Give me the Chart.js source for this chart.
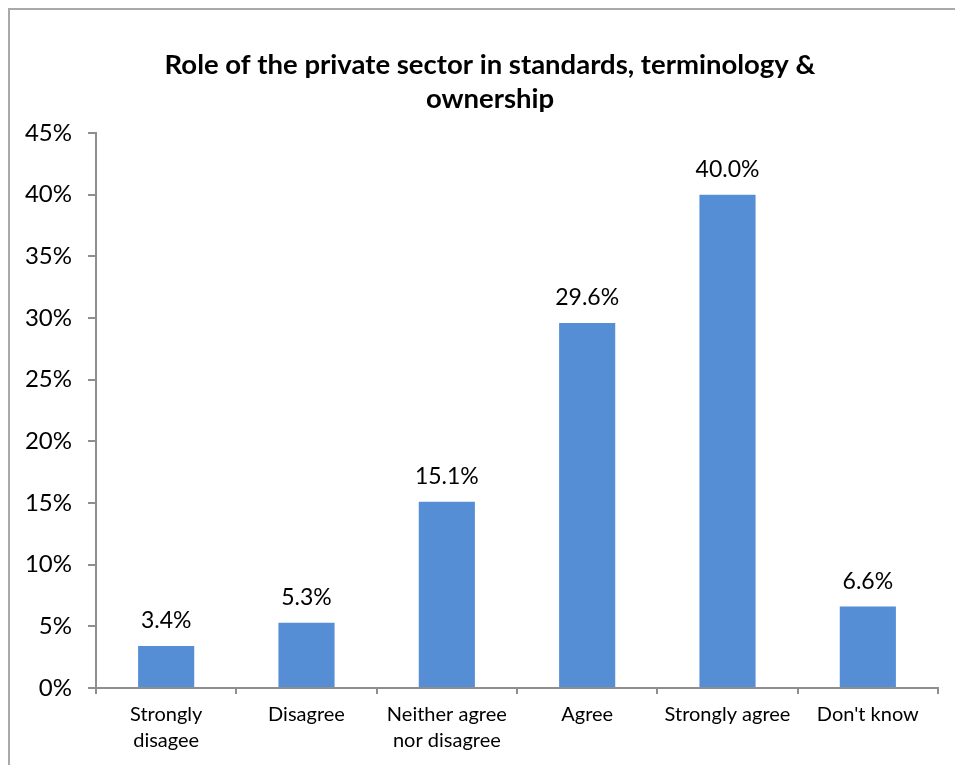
<!DOCTYPE html>
<html>
<head>
<meta charset="utf-8">
<script src="https://cdn.jsdelivr.net/npm/chart.js@4.4.1/dist/chart.umd.min.js"></script>
<style>
  html, body { margin: 0; padding: 0; background: #fff; }
  #wrap { position: relative; width: 955px; height: 765px; }
</style>
</head>
<body>
<div id="wrap"><canvas id="myChart" width="955" height="765"></canvas></div>
<script>
const categories = [
  ["Strongly", "disagee"],
  "Disagree",
  ["Neither agree", "nor disagree"],
  "Agree",
  "Strongly agree",
  "Don't know",
];
const shares = [3.4, 5.3, 15.1, 29.6, 40.0, 6.6];
const yTicks = [0, 5, 10, 15, 20, 25, 30, 35, 40, 45];
const titleLines = ["Role of the private sector in standards, terminology &", "ownership"];

const FONT = "Lato, 'Open Sans', sans-serif";
const AXIS = "#8e8e8e";

// frame, title and the value above each bar
const decorations = {
  id: "decorations",
  beforeDraw(chart) {
    const ctx = chart.ctx;
    ctx.save();
    ctx.fillStyle = "#fff";
    ctx.fillRect(0, 0, chart.width, chart.height);
    ctx.strokeStyle = "#a9a9a9";
    ctx.lineWidth = 2;
    ctx.beginPath();
    ctx.moveTo(9, chart.height);
    ctx.lineTo(9, 9);
    ctx.lineTo(chart.width, 9);
    ctx.stroke();
    ctx.restore();
  },
  afterDraw(chart) {
    const ctx = chart.ctx;
    ctx.save();
    ctx.fillStyle = "#000";
    ctx.textAlign = "center";
    ctx.textBaseline = "middle";
    ctx.font = "bold 27.5px " + FONT;
    titleLines.forEach((line, i) => ctx.fillText(line, 490, 65 + i * 34));

    ctx.font = "23px " + FONT;
    ctx.textBaseline = "bottom";
    const meta = chart.getDatasetMeta(0);
    meta.data.forEach((bar, i) => {
      ctx.fillText(shares[i].toFixed(1) + "%", bar.x, bar.y - 14);
    });
    ctx.restore();
  },
};

const config = {
  type: "bar",
  data: {
    labels: categories,
    datasets: [
      {
        data: shares,
        backgroundColor: "#558ed5",
        categoryPercentage: 0.8,
        barPercentage: 0.5,
      },
    ],
  },
  plugins: [decorations],
  options: {
    responsive: false,
    animation: false,
    layout: { padding: { left: 0, right: 17, top: 133, bottom: 0 } },
    plugins: {
      legend: { display: false },
      tooltip: { enabled: false },
      title: { display: false },
    },
    scales: {
      x: {
        offset: true,
        grid: {
          offset: true,
          drawOnChartArea: false,
          drawTicks: true,
          tickLength: 6,
          color: AXIS,
          lineWidth: 2,
        },
        border: { color: AXIS, width: 2 },
        ticks: {
          color: "#000",
          font: { family: FONT, size: 20, lineHeight: 1.3 },
          padding: 8,
          maxRotation: 0,
          autoSkip: false,
        },
        afterFit(scale) {
          scale.height = 77;
        },
      },
      y: {
        min: 0,
        max: 45,
        grid: {
          drawOnChartArea: false,
          tickLength: 8,
          color: AXIS,
          lineWidth: 2,
        },
        border: { color: AXIS, width: 2 },
        afterBuildTicks(scale) {
          scale.ticks = yTicks.map((v) => ({ value: v }));
        },
        ticks: {
          color: "#000",
          font: { family: FONT, size: 24 },
          padding: 16,
          callback: (v) => v + "%",
        },
        afterFit(scale) {
          scale.width = 96;
        },
      },
    },
  },
};

new Chart(document.getElementById("myChart").getContext("2d"), config);
</script>
</body>
</html>
